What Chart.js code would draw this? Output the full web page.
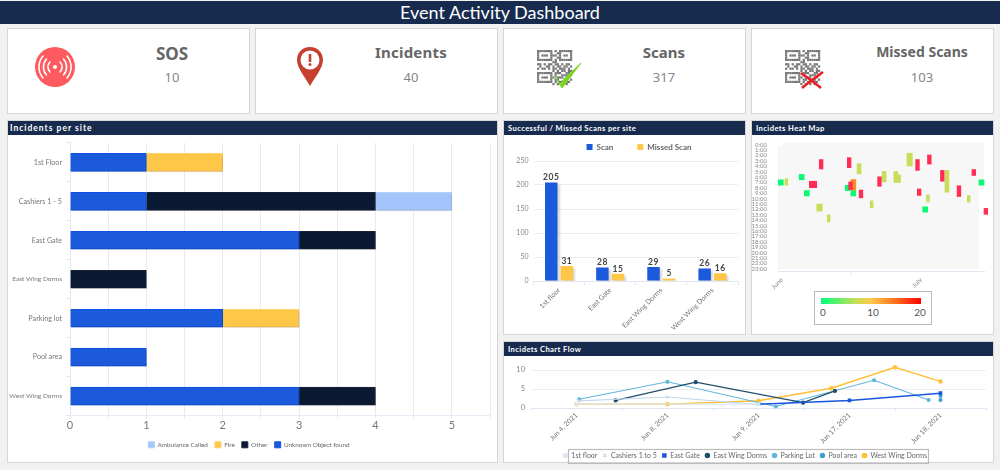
<!DOCTYPE html>
<html>
<head>
<meta charset="utf-8">
<title>Event Activity Dashboard</title>
<script src="https://cdn.jsdelivr.net/npm/chart.js@4"></script>
<style>
  html, body { margin: 0; padding: 0; }
  body { width: 1000px; height: 470px; background: #f1f1f1; position: relative; overflow: hidden; font-family: Lato, sans-serif; }
  .header { position: absolute; left: 0; top: 1px; width: 1000px; height: 23px; background: #172b4e; color: #fff; text-align: center; font-size: 18px; line-height: 23px; }
  .card, .panel { position: absolute; box-sizing: border-box; background: #fff; border: 1px solid #d6d6d6; }
  .card { top: 28px; width: 243px; height: 86px; }
  .card svg { position: absolute; left: 0; top: 0; }
  .card .name { position: absolute; top: 13px; width: 160px; text-align: center; font: bold 15px "Noto Sans", sans-serif; color: #666; }
  .card .num { position: absolute; top: 39px; width: 160px; text-align: center; font: 13px "Noto Sans", sans-serif; color: #858585; }
  .panel-head { position: absolute; left: 0; top: 0; right: 0; height: 14px; background: #172b4e; color: #fff; font-size: 7.6px; font-weight: bold; line-height: 14px; padding-left: 4px; letter-spacing: 0.4px; }
  canvas { position: absolute; }
  .scale { position: absolute; left: 62px; top: 170px; width: 118px; height: 34px; box-sizing: border-box; border: 1.5px solid #bbb; background: #fff; }
  .scale .bar { position: absolute; left: 6px; top: 6px; width: 100px; height: 6px; background: linear-gradient(to right, #00ff7f 0%, #c8de55 35%, #ffc84a 50%, #ff7a20 72%, #ff0000 100%); }
  .scale span { position: absolute; top: 14px; font-size: 10px; color: #555; transform: translateX(-50%); }
</style>
</head>
<body>
<div class="header">Event Activity Dashboard</div>

<div class="card" style="left:7px">
  <svg width="241" height="84">
    <circle cx="47" cy="38" r="20" fill="#ff5a5f"/>
    <g fill="none" stroke="#fff" stroke-linecap="round" stroke-width="1.6">
      <path d="M42 33a7 7 0 0 0 0 10M52 33a7 7 0 0 1 0 10"/>
      <path d="M38.500 30a12 12 0 0 0 0 16M55.500 30a12 12 0 0 1 0 16"/>
      <path d="M35 27a17 17 0 0 0 0 22M59 27a17 17 0 0 1 0 22"/>
    </g>
    <circle cx="47" cy="38" r="2" fill="#fff"/>
  </svg>
  <div class="name" style="left:84px;font-size:17px">SOS</div>
  <div class="num" style="left:84px">10</div>
</div>
<div class="card" style="left:255px">
  <svg width="241" height="84">
    <path d="M54 18c-8 0-13 6-13 13 0 8 8 17 13 26 5-9 13-18 13-26 0-7-5-13-13-13z" fill="#c6402f"/>
    <circle cx="54" cy="31" r="9.500" fill="#fff"/>
    <rect x="52.700" y="25" width="2.600" height="8" fill="#c6402f"/>
    <circle cx="54" cy="35.500" r="1.500" fill="#c6402f"/>
  </svg>
  <div class="name" style="left:75px;letter-spacing:0.2px">Incidents</div>
  <div class="num" style="left:75px">40</div>
</div>
<div class="card" style="left:503px">
  <svg width="241" height="84" class="qr"></svg>
  <div class="name" style="left:80px">Scans</div>
  <div class="num" style="left:80px">317</div>
</div>
<div class="card" style="left:751px">
  <svg width="241" height="84" class="qr"></svg>
  <div class="name" style="left:90px;font-size:14px">Missed Scans</div>
  <div class="num" style="left:90px">103</div>
</div>

<div class="panel" style="left:7px;top:120px;width:491px;height:343px">
  <div class="panel-head" style="font-size:8.5px;letter-spacing:1px;padding-left:2px">Incidents per site</div>
  <canvas id="siteChart" style="left:0;top:14px;width:489px;height:327px"></canvas>
</div>
<div class="panel" style="left:503px;top:120px;width:243px;height:215px">
  <div class="panel-head">Successful / Missed Scans per site</div>
  <canvas id="scanChart" style="left:0;top:14px;width:241px;height:199px"></canvas>
</div>
<div class="panel" style="left:751px;top:120px;width:243px;height:215px">
  <div class="panel-head">Incidets Heat Map</div>
  <canvas id="heatChart" style="left:0;top:14px;width:241px;height:156px"></canvas>
  <div class="scale">
    <div class="bar"></div>
    <span style="left:8px">0</span><span style="left:58px">10</span><span style="left:105px">20</span>
  </div>
</div>
<div class="panel" style="left:503px;top:341px;width:491px;height:122px">
  <div class="panel-head">Incidets Chart Flow</div>
  <canvas id="flowChart" style="left:0;top:14px;width:489px;height:108px"></canvas>
</div>

<script>
// Incidents per site
const sites = ["1st Floor", "Cashiers 1 - 5", "East Gate", "East Wing Dorms", "Parking lot", "Pool area", "West Wing Dorms"];
const unknownObject = [1, 1, 3, 0, 2, 1, 3];
const fire = [1, 0, 0, 0, 1, 0, 0];
const other = [0, 3, 1, 1, 0, 0, 1];
const ambulance = [0, 1, 0, 0, 0, 0, 0];

// Scans per site
const scanSites = ["1st floor", "East Gate", "East Wing Dorms", "West Wing Dorms"];
const scans = [205, 28, 29, 26];
const missedScans = [31, 15, 5, 16];

// Heat map, day counted from June 1, hours from and to
const hourTicks = [0, 1, 2, 3, 4, 5, 6, 7, 8, 9, 10, 11, 12, 13, 14, 15, 16, 17, 18, 19, 20, 21, 22, 23];
const monthTicks = [0, 30];
const monthLabels = ["June", "July"];
const greenCells = [
  [-0.25, 6.5, 7.5], [4.24, 5.5, 6.5], [5.36, 8.5, 9.5], [14.2, 7.5, 8.5],
  [15.4, 8.5, 9.5], [30.9, 11.5, 12.5], [43.05, 6.5, 7.5]
];
const limeThin = [
  [0.94, 6.3, 7.5], [10.07, 13, 14.3], [19.35, 10.4, 11.7], [25.3, 5.6, 7],
  [31.5, 9.3, 10.6], [40.3, 9.4, 10.65]
];
const limeMid = [[16.65, 3.5, 5.4], [22.05, 4.95, 6.9], [24.57, 5, 7], [35.6, 4.76, 8.8]];
const limeWide = [[8.1, 11, 12.3], [27.55, 1.57, 3.95]];
const orangeCells = [[15.4, 6.45, 8.4]];
const redCells = [
  [8.45, 2.75, 4.5], [6.3, 6.77, 7.96], [7.1, 6.77, 7.96], [14.5, 2.4, 4.26],
  [14.8, 6.9, 8.3], [17.05, 8.4, 9.84], [21.04, 5.95, 7.7], [29.25, 2.75, 4.76],
  [29.6, 8.2, 9.4], [31.8, 1.9, 3.6], [34.6, 4.76, 6.77], [38.2, 7.6, 9.6],
  [41.4, 4.6, 5.7], [44, 11.8, 12.9]
];

// Chart flow, x is the position along the date axis
const flowDates = ["Jun 4, 2021", "Jun 8, 2021", "Jun 9, 2021", "Jun 17, 2021", "Jun 18, 2021"];
const firstFloor = [[0, 1], [2, 1]];
const cashiers = [[0.03, 1.9], [1, 2.9], [2, 0.9]];
const eastGate = [[2, 1], [3, 2], [4, 3.9]];
const eastWing = [[0.43, 2], [1.31, 6.8], [2.49, 1.4], [2.84, 4.5]];
const parkingLot = [[0.03, 2.3], [1, 6.9], [2.19, 0.4], [3.27, 7.3], [3.87, 2.1]];
const poolArea = [[4, 3.2], [4, 2.1]];
const westWing = [[0, 1], [1, 1], [2, 1.9], [2.8, 5.2], [3.5, 10.7], [4, 7]];

// QR icons
const qrRows = [
  "1111111010111111", "1000001001100001", "1011101110101101", "1000001001100001",
  "1111111010111111", "0000000110000000", "1101011011010110", "0100110101101101",
  "1011010110111010", "0000000101011011", "1111111011100110", "1000001010011101",
  "1011101101110010", "1000001011001101", "1111111010110110", "0000000101010100"
];
document.querySelectorAll(".qr").forEach(function (svg, i) {
  let html = "";
  qrRows.forEach(function (row, r) {
    row.split("").forEach(function (c, k) {
      if (c === "1") html += `<rect x="${33 + k * 2.2}" y="${21 + r * 2.2}" width="2.2" height="2.2" fill="#777"/>`;
    });
  });
  if (i === 0) {
    html += `<path d="M51 47l7 12 19-25-18 17-3 5z" fill="#7dd321" stroke="#7dd321"/>`;
  } else {
    html += `<path d="M49 44c7 5 14 10 20 15M71 43c-7 5-14 10-21 16" fill="none" stroke="#ee1c25" stroke-width="2.500"/>`;
  }
  svg.innerHTML = html;
});

const barShadow = {
  id: "barShadow",
  beforeDatasetsDraw(chart) {
    chart.ctx.save();
    chart.ctx.shadowColor = "rgba(0,0,0,0.16)";
    chart.ctx.shadowOffsetX = 2;
    chart.ctx.shadowOffsetY = 2;
    chart.ctx.shadowBlur = 2;
  },
  afterDatasetsDraw(chart) {
    chart.ctx.restore();
  }
};

function fixedWidth(w) {
  return function (scale) { scale.width = w; };
}
function fixedHeight(h) {
  return function (scale) { scale.height = h; };
}

// stacked bars
new Chart(document.getElementById("siteChart"), {
  type: "bar",
  data: {
    labels: sites,
    datasets: [
      { label: "Unknown Object found", data: unknownObject, backgroundColor: "#1a5adb", borderColor: "#0f50e5" },
      { label: "Fire", data: fire, backgroundColor: "#ffc747", borderColor: "#ffd066" },
      { label: "Other", data: other, backgroundColor: "#0b1a33", borderColor: "#1a2335" },
      { label: "Ambulance Called", data: ambulance, backgroundColor: "#a4c5fb", borderColor: "#b4cffa" }
    ]
  },
  options: {
    indexAxis: "y",
    responsive: false,
    animation: false,
    layout: { padding: { top: 2, right: 7, bottom: 4 } },
    datasets: { bar: { barThickness: 18, borderWidth: 1 } },
    scales: {
      x: {
        stacked: true,
        min: 0,
        max: 5.5,
        afterFit: fixedHeight(19),
        grid: { color: "#e9e9ee", tickLength: 3 },
        border: { color: "#e6ecf5" },
        ticks: {
          stepSize: 0.5,
          autoSkip: false,
          maxRotation: 0,
          color: "#777",
          padding: 0,
          font: { size: 11, family: "Lato" },
          callback: (v) => (Number.isInteger(v) ? v : "")
        }
      },
      y: {
        stacked: true,
        afterFit: fixedWidth(62),
        grid: { drawOnChartArea: false, color: "#dfe7f3", tickLength: 4 },
        border: { color: "#dfe7f3" },
        ticks: {
          color: "#777",
          padding: 4,
          font: (ctx) => ({ size: sites[ctx.index].length > 14 ? 6.5 : 7.2, family: "Lato" })
        }
      }
    },
    plugins: {
      tooltip: { enabled: false },
      legend: {
        position: "bottom",
        labels: {
          sort: (a, b) => a.text.localeCompare(b.text),
          boxWidth: 6,
          boxHeight: 6,
          padding: 7,
          color: "#666",
          font: { size: 6.4, family: "Lato" }
        }
      }
    }
  },
  plugins: [barShadow]
});

// value labels over the grouped bars and the legend offset
const scanLabels = {
  id: "scanLabels",
  afterLayout(chart) {
    chart.legend.left += 18;
    chart.legend.right += 18;
    chart.legend.top = -16;
  },
  afterDatasetsDraw(chart) {
    const ctx = chart.ctx;
    ctx.save();
    ctx.shadowColor = "transparent";
    ctx.font = "bold 8.5px Lato";
    ctx.letterSpacing = "0.5px";
    ctx.fillStyle = "#444";
    ctx.textAlign = "center";
    chart.data.datasets.forEach(function (ds, d) {
      chart.getDatasetMeta(d).data.forEach(function (bar, i) {
        ctx.fillText(ds.data[i], bar.x, bar.y - 5);
      });
    });
    ctx.restore();
  }
};

new Chart(document.getElementById("scanChart"), {
  type: "bar",
  data: {
    labels: scanSites,
    datasets: [
      { label: "Scan", data: scans, backgroundColor: "#1a5adb" },
      { label: "Missed Scan", data: missedScans, backgroundColor: "#ffc747" }
    ]
  },
  options: {
    responsive: false,
    animation: false,
    layout: { padding: { top: 2, right: 7 } },
    datasets: { bar: { categoryPercentage: 0.61, barPercentage: 0.8 } },
    scales: {
      x: {
        afterFit: fixedHeight(53),
        grid: { drawOnChartArea: false, color: "#dfe7f3", tickLength: 4 },
        border: { color: "#dfe7f3" },
        ticks: { maxRotation: 45, minRotation: 45, color: "#777", font: { size: 7, family: "Lato" }, padding: 1 }
      },
      y: {
        min: 0,
        max: 250,
        afterFit: fixedWidth(29.5),
        grid: { color: "#eeeeee", drawTicks: false },
        border: { display: false },
        ticks: { stepSize: 50, color: "#888", font: { size: 7, family: "Lato" }, padding: 5 }
      }
    },
    plugins: {
      tooltip: { enabled: false },
      legend: {
        position: "top",
        maxHeight: 24,
        labels: { boxWidth: 6, boxHeight: 6, padding: 24, color: "#666", font: { size: 8, weight: "bold", family: "Lato" } }
      }
    }
  },
  plugins: [barShadow, scanLabels]
});

// grey stepped background behind the heat map
const heatBackground = {
  id: "heatBackground",
  beforeDatasetsDraw(chart) {
    const { ctx, chartArea: a } = chart;
    ctx.save();
    ctx.fillStyle = "#f7f7f7";
    ctx.fillRect(a.left + 5, a.top, a.width - 5, 48);
    ctx.fillRect(a.left, a.top + 4, a.width - 5, a.height - 6);
    ctx.restore();
  }
};

function heatDataset(cells, color, thickness) {
  return {
    data: cells.map((c) => ({ x: c[0], y: [c[1], c[2]] })),
    backgroundColor: color,
    barThickness: thickness,
    grouped: false,
    clip: false
  };
}

new Chart(document.getElementById("heatChart"), {
  type: "bar",
  data: {
    datasets: [
      heatDataset(redCells, "#ff2d55", 3.7),
      heatDataset(orangeCells, "#ff8c1e", 5),
      heatDataset(limeThin, "#c8de5a", 2.8),
      heatDataset(limeMid, "#c8de5a", 4),
      heatDataset(limeWide, "#c8de5a", 5.4),
      heatDataset(greenCells, "#0cf975", 5)
    ]
  },
  options: {
    responsive: false,
    animation: false,
    layout: { padding: { top: 7, right: 9 } },
    scales: {
      x: {
        type: "linear",
        offset: false,
        min: -0.86,
        max: 43.6,
        afterFit: fixedHeight(20),
        afterBuildTicks: (s) => { s.ticks = monthTicks.map((v) => ({ value: v })); },
        grid: { drawOnChartArea: false, color: "#dfe7f3", tickLength: 4 },
        border: { color: "#dfe7f3" },
        ticks: {
          maxRotation: 45,
          minRotation: 45,
          color: "#888",
          font: { size: 6.5, family: "Lato" },
          padding: 1,
          callback: (v) => monthLabels[monthTicks.indexOf(v)]
        }
      },
      y: {
        reverse: true,
        min: -0.5,
        max: 23.4,
        afterFit: fixedWidth(26),
        afterBuildTicks: (s) => { s.ticks = hourTicks.map((v) => ({ value: v })); },
        grid: { display: false },
        border: { display: false },
        ticks: { autoSkip: false, color: "#888", font: { size: 6, family: "Lato" }, padding: 3, callback: (v) => v + ":00" }
      }
    },
    plugins: { tooltip: { enabled: false }, legend: { display: false } }
  },
  plugins: [heatBackground]
});

// line chart with a box around the legend
const legendBox = {
  id: "legendBox",
  afterLayout(chart) {
    chart.legend.top = 91;
  },
  afterDraw(chart) {
    const ctx = chart.ctx;
    ctx.save();
    ctx.strokeStyle = "#bcbcbc";
    ctx.strokeRect(64.5, 93.5, 360, 14);
    ctx.restore();
  }
};

function flowDataset(label, points, color, style, width) {
  return {
    label: label,
    data: points.map((p) => ({ x: p[0], y: p[1] })),
    borderColor: color,
    backgroundColor: color,
    borderWidth: width,
    pointStyle: style,
    pointRadius: 1.5,
    tension: 0,
    clip: false
  };
}

new Chart(document.getElementById("flowChart"), {
  type: "line",
  data: {
    datasets: [
      flowDataset("1st floor", firstFloor, "#dce7f5", "circle", 1.2),
      flowDataset("Cashiers 1 to 5", cashiers, "#c5d8ec", "crossRot", 1.2),
      flowDataset("East Gate", eastGate, "#1a56db", "rect", 1.5),
      flowDataset("East Wing Dorms", eastWing, "#1f4e6b", "circle", 1.2),
      flowDataset("Parking Lot", parkingLot, "#62b5dc", "circle", 1.2),
      flowDataset("Pool area", poolArea, "#3fa0d0", "circle", 1.2),
      flowDataset("West Wing Dorms", westWing, "#ffc038", "circle", 1.5)
    ]
  },
  options: {
    responsive: false,
    animation: false,
    layout: { padding: { top: 14, right: 7 } },
    scales: {
      x: {
        type: "linear",
        min: -0.5,
        max: 4.5,
        afterFit: fixedHeight(41),
        grid: {
          drawOnChartArea: false,
          tickLength: 3,
          tickColor: (ctx) => (Number.isInteger(ctx.tick.value) ? "transparent" : "#dfe7f3")
        },
        border: { color: "#dfe7f3" },
        ticks: {
          stepSize: 0.5,
          autoSkip: false,
          maxRotation: 45,
          minRotation: 45,
          color: "#777",
          font: { size: 7, family: "Lato" },
          padding: 0,
          callback: (v) => (Number.isInteger(v) ? flowDates[v] : "")
        }
      },
      y: {
        min: 0,
        max: 10,
        afterFit: fixedWidth(27),
        grid: { color: "#eeeeee", drawTicks: false },
        border: { display: false },
        ticks: { stepSize: 5, color: "#888", font: { size: 7.5, family: "Lato" }, padding: 6 }
      }
    },
    plugins: {
      tooltip: { enabled: false },
      legend: {
        position: "bottom",
        maxHeight: 15,
        labels: { usePointStyle: true, boxWidth: 5, boxHeight: 3, padding: 5, color: "#666", font: { size: 7, family: "Lato" } }
      }
    }
  },
  plugins: [legendBox]
});
</script>
</body>
</html>
